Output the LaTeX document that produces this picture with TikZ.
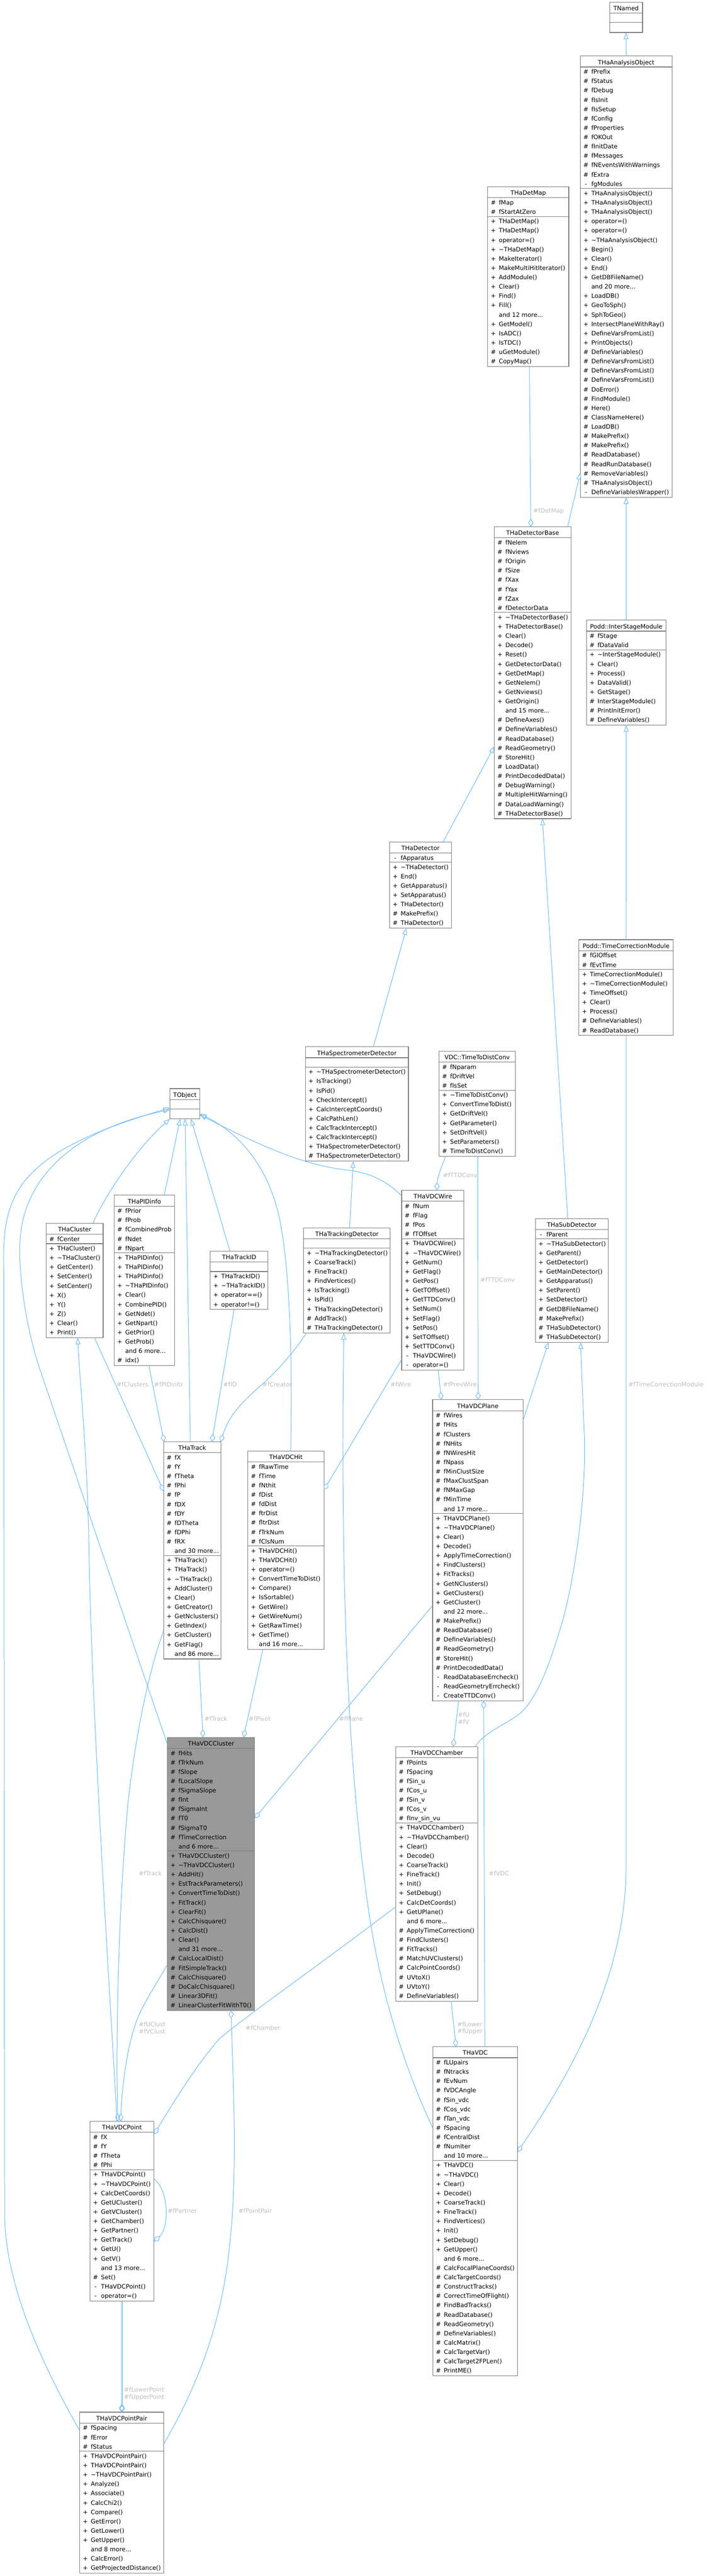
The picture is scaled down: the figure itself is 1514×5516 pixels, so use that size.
\documentclass[tikz,border=0pt]{standalone}
\usepackage{fontspec}
\setmainfont{DejaVu Sans}
\usetikzlibrary{calc,arrows.meta}

\definecolor{edgeblue}{HTML}{63B8FF}
\definecolor{boxgray}{HTML}{7A7A7A}
\definecolor{labelgray}{HTML}{BEBEBE}
\definecolor{focusgray}{HTML}{999999}

\newcommand{\moredots}{...}
\newcommand{\dtor}{\textasciitilde}

\tikzset{
    classrect/.style={draw=boxgray, line width=1.3pt, inner sep=0pt, outer sep=0pt, anchor=north west},
    rowline/.style={draw=boxgray, line width=1.3pt},
    rowtext/.style={inner sep=0pt, anchor=base west},
    marktext/.style={inner sep=0pt, anchor=base},
    titletext/.style={inner sep=0pt, anchor=base},
    inherit/.style={draw=edgeblue, line width=1.1pt, -{Triangle[open, length=14pt, width=10pt]}},
    member/.style={draw=edgeblue, line width=1.1pt, {Diamond[open, length=17pt, width=11pt]}-},
    edgelabel/.style={text=labelgray, inner sep=0pt, anchor=west, align=left},
}

\begin{document}
\begin{tikzpicture}[x=1pt, y=-1pt, font=\fontsize{12.9}{15.3}\selectfont]
\path[fill=white, use as bounding box] (0,0) rectangle (1514,5516);
% Variables: 1 := top left corner, 2 := ID, 3 := width, 4 := title,
% 5,6 := attribute count and rows, 7,8 := method count and rows, 9 := fill.
\def\classbox(#1)#2#3#4#5#6#7#8#9{
    \begin{scope}[shift={(#1)}]
        \pgfmathtruncatemacro\na{max(#5,1)}
        \pgfmathtruncatemacro\nm{max(#7,1)}
        \pgfmathsetmacro\hgt{25+20*(\na+\nm)}
        \node[classrect, fill=#9, minimum width=#3pt, minimum height=\hgt pt] (#2) at (0,0) {};
        \node[titletext] (#2-title) at (#3/2,18) {#4};
        \draw[rowline] (0,23.5) -- ++(#3,0);
        \draw[rowline] (0,23.5+20*\na) -- ++(#3,0);
        \ifnum#5>0
        \foreach \mk/\tx [count=\i from 0] in {#6}{
            \node[marktext] (#2-am\i) at (12,38.5+20*\i) {\mk};
            \node[rowtext] (#2-a\i) at (23.5,38.5+20*\i) {\tx};
        }
        \fi
        \pgfmathsetmacro\ms{38.5+20*\na}
        \ifnum#7>0
        \foreach \mk/\tx [count=\i from 0] in {#8}{
            \node[marktext] (#2-mm\i) at (12,\ms+20*\i) {\mk};
            \node[rowtext] (#2-m\i) at (23.5,\ms+20*\i) {\tx};
        }
        \fi
    \end{scope}
}
\classbox(1304.3,4.6){tnamed}{70.2}{TNamed}{0}{}{0}{}{white}
\classbox(1241.4,120){ao}{196.4}{THaAnalysisObject}{13}{\#/fPrefix, \#/fStatus, \#/fDebug, \#/fIsInit, \#/fIsSetup, \#/fConfig, \#/fProperties, \#/fOKOut, \#/fInitDate, \#/fMessages, \#/fNEventsWithWarnings, \#/fExtra, -/fgModules}{33}{+/THaAnalysisObject(), +/THaAnalysisObject(), +/THaAnalysisObject(), +/operator=(), +/operator=(), +/\dtor THaAnalysisObject(), +/Begin(), +/Clear(), +/End(), +/GetDBFileName(), /and 20 more\moredots, +/LoadDB(), +/GeoToSph(), +/SphToGeo(), +/IntersectPlaneWithRay(), +/DefineVarsFromList(), +/PrintObjects(), \#/DefineVariables(), \#/DefineVarsFromList(), \#/DefineVarsFromList(), \#/DefineVarsFromList(), \#/DoError(), \#/FindModule(), \#/Here(), \#/ClassNameHere(), \#/LoadDB(), \#/MakePrefix(), \#/MakePrefix(), \#/ReadDatabase(), \#/ReadRunDatabase(), \#/RemoveVariables(), \#/THaAnalysisObject(), -/DefineVariablesWrapper()}{white}
\classbox(1043.5,400){detmap}{173.4}{THaDetMap}{2}{\#/fMap, \#/fStartAtZero}{16}{+/THaDetMap(), +/THaDetMap(), +/operator=(), +/\dtor THaDetMap(), +/MakeIterator(), +/MakeMultiHitIterator(), +/AddModule(), +/Clear(), +/Find(), +/Fill(), /and 12 more\moredots, +/GetModel(), +/IsADC(), +/IsTDC(), \#/uGetModule(), \#/CopyMap()}{white}
\classbox(1057.6,1128){detbase}{164}{THaDetectorBase}{8}{\#/fNelem, \#/fNviews, \#/fOrigin, \#/fSize, \#/fXax, \#/fYax, \#/fZax, \#/fDetectorData}{22}{+/\dtor THaDetectorBase(), +/THaDetectorBase(), +/Clear(), +/Decode(), +/Reset(), +/GetDetectorData(), +/GetDetMap(), +/GetNelem(), +/GetNviews(), +/GetOrigin(), /and 15 more\moredots, \#/DefineAxes(), \#/DefineVariables(), \#/ReadDatabase(), \#/ReadGeometry(), \#/StoreHit(), \#/LoadData(), \#/PrintDecodedData(), \#/DebugWarning(), \#/MultipleHitWarning(), \#/DataLoadWarning(), \#/THaDetectorBase()}{white}
\classbox(1254.7,1328){ism}{170.1}{Podd::InterStageModule}{2}{\#/fStage, \#/fDataValid}{8}{+/\dtor InterStageModule(), +/Clear(), +/Process(), +/DataValid(), +/GetStage(), \#/InterStageModule(), \#/PrintInitError(), \#/DefineVariables()}{white}
\classbox(833.5,1802.8){det}{132.2}{THaDetector}{1}{-/fApparatus}{7}{+/\dtor THaDetector(), +/End(), +/GetApparatus(), +/SetApparatus(), +/THaDetector(), \#/MakePrefix(), \#/THaDetector()}{white}
\classbox(1238.4,2012.3){tcm}{202.2}{Podd::TimeCorrectionModule}{2}{\#/fGlOffset, \#/fEvtTime}{7}{+/TimeCorrectionModule(), +/\dtor TimeCorrectionModule(), +/TimeOffset(), +/Clear(), +/Process(), \#/DefineVariables(), \#/ReadDatabase()}{white}
\classbox(653.3,2241.4){specdet}{220.4}{THaSpectrometerDetector}{0}{}{10}{+/\dtor THaSpectrometerDetector(), +/IsTracking(), +/IsPid(), +/CheckIntercept(), +/CalcInterceptCoords(), +/CalcPathLen(), +/CalcTrackIntercept(), +/CalcTrackIntercept(), +/THaSpectrometerDetector(), \#/THaSpectrometerDetector()}{white}
\classbox(939.3,2251){ttdconv}{163}{VDC::TimeToDistConv}{3}{\#/fNparam, \#/fDriftVel, \#/fIsSet}{7}{+/\dtor TimeToDistConv(), +/ConvertTimeToDist(), +/GetDriftVel(), +/GetParameter(), +/SetDriftVel(), +/SetParameters(), \#/TimeToDistConv()}{white}
\classbox(363.5,2331){tobject}{64}{TObject}{0}{}{0}{}{white}
\classbox(98.9,2619.5){cluster}{121.7}{THaCluster}{1}{\#/fCenter}{10}{+/THaCluster(), +/\dtor THaCluster(), +/GetCenter(), +/SetCenter(), +/SetCenter(), +/X(), +/Y(), +/Z(), +/Clear(), +/Print()}{white}
\classbox(244.3,2559.2){pidinfo}{129.4}{THaPIDinfo}{5}{\#/fPrior, \#/fProb, \#/fCombinedProb, \#/fNdet, \#/fNpart}{12}{+/THaPIDinfo(), +/THaPIDinfo(), +/THaPIDinfo(), +/\dtor THaPIDinfo(), +/Clear(), +/CombinePID(), +/GetNdet(), +/GetNpart(), +/GetPrior(), +/GetProb(), /and 6 more\moredots, \#/idx()}{white}
\classbox(449.8,2679.2){trackid}{123.6}{THaTrackID}{0}{}{4}{+/THaTrackID(), +/\dtor THaTrackID(), +/operator==(), +/operator!=()}{white}
\classbox(649.5,2629.2){trackdet}{185.5}{THaTrackingDetector}{0}{}{9}{+/\dtor THaTrackingDetector(), +/CoarseTrack(), +/FineTrack(), +/FindVertices(), +/IsTracking(), +/IsPid(), +/THaTrackingDetector(), \#/AddTrack(), \#/THaTrackingDetector()}{white}
\classbox(859.4,2549){vdcwire}{133.3}{THaVDCWire}{4}{\#/fNum, \#/fFlag, \#/fPos, \#/fTOffset}{14}{+/THaVDCWire(), +/\dtor THaVDCWire(), +/GetNum(), +/GetFlag(), +/GetPos(), +/GetTOffset(), +/GetTTDConv(), +/SetNum(), +/SetFlag(), +/SetPos(), +/SetTOffset(), +/SetTTDConv(), -/THaVDCWire(), -/operator=()}{white}
\classbox(1145.3,2609.2){subdet}{155.9}{THaSubDetector}{1}{-/fParent}{11}{+/\dtor THaSubDetector(), +/GetParent(), +/GetDetector(), +/GetMainDetector(), +/GetApparatus(), +/SetParent(), +/SetDetector(), \#/GetDBFileName(), \#/MakePrefix(), \#/THaSubDetector(), \#/THaSubDetector()}{white}
\classbox(350,3087.3){track}{122.6}{THaTrack}{11}{\#/fX, \#/fY, \#/fTheta, \#/fPhi, \#/fP, \#/fDX, \#/fDY, \#/fDTheta, \#/fDPhi, \#/fRX, /and 30 more\moredots}{11}{+/THaTrack(), +/THaTrack(), +/\dtor THaTrack(), +/AddCluster(), +/Clear(), +/GetCreator(), +/GetNclusters(), +/GetIndex(), +/GetCluster(), +/GetFlag(), /and 86 more\moredots}{white}
\classbox(530.3,3106.8){vdchit}{162.9}{THaVDCHit}{9}{\#/fRawTime, \#/fTime, \#/fNthit, \#/fDist, \#/fdDist, \#/ftrDist, \#/fltrDist, \#/fTrkNum, \#/fClsNum}{11}{+/THaVDCHit(), +/THaVDCHit(), +/operator=(), +/ConvertTimeToDist(), +/Compare(), +/IsSortable(), +/GetWire(), +/GetWireNum(), +/GetRawTime(), +/GetTime(), /and 16 more\moredots}{white}
\classbox(925.5,2997.2){vdcplane}{193.4}{THaVDCPlane}{11}{\#/fWires, \#/fHits, \#/fClusters, \#/fNHits, \#/fNWiresHit, \#/fNpass, \#/fMinClustSize, \#/fMaxClustSpan, \#/fNMaxGap, \#/fMinTime, /and 17 more\moredots}{20}{+/THaVDCPlane(), +/\dtor THaVDCPlane(), +/Clear(), +/Decode(), +/ApplyTimeCorrection(), +/FindClusters(), +/FitTracks(), +/GetNClusters(), +/GetClusters(), +/GetCluster(), /and 22 more\moredots, \#/MakePrefix(), \#/ReadDatabase(), \#/DefineVariables(), \#/ReadGeometry(), \#/StoreHit(), \#/PrintDecodedData(), -/ReadDatabaseErrcheck(), -/ReadGeometryErrcheck(), -/CreateTTDConv()}{white}
\classbox(358.2,3720.1){vdccluster}{186.6}{THaVDCCluster}{11}{\#/fHits, \#/fTrkNum, \#/fSlope, \#/fLocalSlope, \#/fSigmaSlope, \#/fInt, \#/fSigmaInt, \#/fT0, \#/fSigmaT0, \#/fTimeCorrection, /and 6 more\moredots}{17}{+/THaVDCCluster(), +/\dtor THaVDCCluster(), +/AddHit(), +/EstTrackParameters(), +/ConvertTimeToDist(), +/FitTrack(), +/ClearFit(), +/CalcChisquare(), +/CalcDist(), +/Clear(), /and 31 more\moredots, \#/CalcLocalDist(), \#/FitSimpleTrack(), \#/CalcChisquare(), \#/DoCalcChisquare(), \#/Linear3DFit(), \#/LinearClusterFitWithT0()}{focusgray}
\classbox(846.7,3740){vdcchamber}{175.7}{THaVDCChamber}{7}{\#/fPoints, \#/fSpacing, \#/fSin\_u, \#/fCos\_u, \#/fSin\_v, \#/fCos\_v, \#/fInv\_sin\_vu}{19}{+/THaVDCChamber(), +/\dtor THaVDCChamber(), +/Clear(), +/Decode(), +/CoarseTrack(), +/FineTrack(), +/Init(), +/SetDebug(), +/CalcDetCoords(), +/GetUPlane(), /and 6 more\moredots, \#/ApplyTimeCorrection(), \#/FindClusters(), \#/FitTracks(), \#/MatchUVClusters(), \#/CalcPointCoords(), \#/UVtoX(), \#/UVtoY(), \#/DefineVariables()}{white}
\classbox(926,4382.6){vdc}{181.3}{THaVDC}{11}{\#/fLUpairs, \#/fNtracks, \#/fEvNum, \#/fVDCAngle, \#/fSin\_vdc, \#/fCos\_vdc, \#/fTan\_vdc, \#/fSpacing, \#/fCentralDist, \#/fNumIter, /and 10 more\moredots}{23}{+/THaVDC(), +/\dtor THaVDC(), +/Clear(), +/Decode(), +/CoarseTrack(), +/FineTrack(), +/FindVertices(), +/Init(), +/SetDebug(), +/GetUpper(), /and 6 more\moredots, \#/CalcFocalPlaneCoords(), \#/CalcTargetCoords(), \#/ConstructTracks(), \#/CorrectTimeOfFlight(), \#/FindBadTracks(), \#/ReadDatabase(), \#/ReadGeometry(), \#/DefineVariables(), \#/CalcMatrix(), \#/CalcTargetVar(), \#/CalcTarget2FPLen(), \#/PrintME()}{white}
\classbox(192.4,4542.4){vdcpoint}{137.2}{THaVDCPoint}{4}{\#/fX, \#/fY, \#/fTheta, \#/fPhi}{14}{+/THaVDCPoint(), +/\dtor THaVDCPoint(), +/CalcDetCoords(), +/GetUCluster(), +/GetVCluster(), +/GetChamber(), +/GetPartner(), +/GetTrack(), +/GetU(), +/GetV(), /and 13 more\moredots, \#/Set(), -/THaVDCPoint(), -/operator=()}{white}
\classbox(170.6,5165.2){pointpair}{179.8}{THaVDCPointPair}{3}{\#/fSpacing, \#/fError, \#/fStatus}{13}{+/THaVDCPointPair(), +/THaVDCPointPair(), +/\dtor THaVDCPointPair(), +/Analyze(), +/Associate(), +/CalcChi2(), +/Compare(), +/GetError(), +/GetLower(), +/GetUpper(), /and 8 more\moredots, +/CalcError(), +/GetProjectedDistance()}{white}

% inheritance
\draw[inherit] (ao.north) -- (tnamed.south);
\draw[inherit] ($(detbase.north west)+(156.8,0)$) -- ($(ao.north west)+(0,893)$);
\draw[inherit] (ism.north) -- (ao.south);
\draw[inherit] ($(det.north west)+(114.5,0)$) -- ($(detbase.north west)+(0,470)$);
\draw[inherit] ($(subdet.north west)+(69.4,0)$) -- ($(detbase.north west)+(102.8,625)$);
\draw[inherit] (tcm.north) -- (ism.south);
\draw[inherit] ($(specdet.north west)+(145.5,0)$) -- ($(det.north west)+(35.8,185)$);
\draw[inherit] ($(trackdet.north west)+(98.5,0)$) -- ($(specdet.north west)+(102.5,245)$);
\draw[inherit] ($(vdcplane.north west)+(193.4,44.8)$) -- ($(subdet.north west)+(28.1,265)$);
\draw[inherit] ($(vdcchamber.north west)+(169.7,0)$) .. controls (1040,3705) and (1090,3690) .. (1118,3664)
    .. controls (1160,3620) and (1185,3530) .. (1201,3480)
    .. controls (1230,3380) and (1255,3200) .. (1250,3071)
    .. controls (1247,3000) and (1244,2930) .. ($(subdet.north west)+(97,265)$);
\draw[inherit] ($(vdchit.north west)+(91.6,0)$) .. controls (627,2850) and (615,2700) .. (600,2620)
    .. controls (580,2510) and (520,2430) .. ($(tobject.north west)+(64,54)$);
\draw[inherit] ($(vdcwire.north west)+(0,12)$) .. controls (830,2530) and (790,2510) .. (740,2505)
    .. controls (650,2495) and (560,2455) .. ($(tobject.north west)+(64,56)$);
\draw[inherit] ($(track.north west)+(57.2,0)$) -- ($(tobject.north west)+(32.5,65)$);
\draw[inherit] ($(pidinfo.north west)+(107.1,0)$) -- ($(tobject.north west)+(21.9,65)$);
\draw[inherit] ($(trackid.north west)+(42.2,0)$) -- ($(tobject.north west)+(45.1,65)$);
\draw[inherit] ($(cluster.north west)+(99.8,0)$) .. controls (215,2580) and (280,2470) .. (tobject.south west);
\draw[inherit] ($(vdccluster.north west)+(0,15.5)$) -- (86.3,2934.6)
    .. controls (52.3,2834.6) and (40,2720) .. (42.7,2665)
    .. controls (45,2530) and (150,2420) .. ($(tobject.north west)+(0,45.2)$);
\draw[inherit] ($(pointpair.north west)+(0,39.8)$) .. controls (100,5080) and (10,4900) .. (10,4740)
    -- (8,2720) .. controls (4,2560) and (30,2470) .. ($(tobject.north west)+(0,41.3)$);
\draw[inherit] ($(vdcpoint.north west)+(57.6,0)$) .. controls (244,4400) and (196,3700) .. (190,3300)
    .. controls (186,3100) and (170,2950) .. ($(cluster.north west)+(67.4,245)$);
\draw[inherit] ($(vdc.north west)+(0,174)$) .. controls (880,4460) and (820,4300) .. (790,4100)
    .. controls (745,3800) and (728,3400) .. ($(trackdet.north west)+(85.9,225)$);

% members
\draw[member] ($(detbase.north west)+(78,0)$) -- ($(detmap.north west)+(89.2,385)$);
\draw[member] ($(vdcwire.north west)+(75.4,0)$) .. controls (935,2525) and (945,2495) .. ($(ttdconv.north west)+(14.3,225)$);
\draw[member] ($(vdcplane.north west)+(97.5,0)$) -- ($(ttdconv.north west)+(82.6,225)$);
\draw[member] ($(vdcplane.north west)+(18.7,0)$) -- ($(vdcwire.north west)+(78.2,385)$);
\draw[member] ($(vdchit.north west)+(162.9,83.2)$) -- ($(vdcwire.north west)+(0,361.6)$);
\draw[member] ($(track.north west)+(0,105.7)$) -- ($(cluster.north west)+(103.2,245)$);
\draw[member] ($(track.north west)+(1,0)$) -- ($(pidinfo.north west)+(74.2,365)$);
\draw[member] ($(track.north west)+(103.2,0)$) -- ($(trackid.north west)+(50.9,125)$);
\draw[member] ($(track.north west)+(122,0)$) .. controls (490,3030) and (520,3000) .. (560,2965)
    .. controls (600,2930) and (640,2880) .. ($(trackdet.north west)+(5.8,225)$);
\draw[member] ($(vdccluster.north west)+(76.1,0)$) -- ($(track.north west)+(75.6,465)$);
\draw[member] ($(vdccluster.north west)+(162.9,0)$) -- ($(vdchit.north west)+(32,425)$);
\draw[member] ($(vdccluster.north west)+(186.6,173.4)$) -- ($(vdcplane.north west)+(0,440.8)$);
\draw[member] ($(vdcchamber.north west)+(122.9,0)$) -- ($(vdcplane.north west)+(55.6,645)$);
\draw[member] ($(vdcplane.north west)+(109.1,645)$) -- ($(vdc.north west)+(111.4,0)$);
\draw[member] ($(vdc.north west)+(49.6,0)$) -- ($(vdcchamber.north west)+(118.5,545)$);
\draw[member] ($(vdc.north west)+(181.3,225.4)$) .. controls (1200,4470) and (1339,4250) .. (1339.3,4000)
    -- ($(tcm.north west)+(100.9,205)$);
\draw[member] ($(vdcpoint.north west)+(65.5,0)$) .. controls (262,4450) and (275,4370) .. (295,4320)
    .. controls (315,4275) and (340,4240) .. ($(vdccluster.north west)+(0,486.3)$);
\draw[member] ($(vdcpoint.north west)+(59.6,0)$) .. controls (247,4350) and (255,4050) .. (275,3850)
    .. controls (295,3680) and (325,3560) .. ($(track.north west)+(0,404.4)$);
\draw[member] ($(vdcpoint.north west)+(137.2,27.6)$) .. controls (360,4520) and (420,4420) .. (470,4365)
    .. controls (525,4318) and (700,4195) .. ($(vdcchamber.north west)+(0,342.8)$);
\draw[member] ($(vdcpoint.north west)+(137.2,257.2)$) .. controls (362,4770) and (362,4690) .. ($(vdcpoint.north west)+(137.2,123.5)$);
\draw[member] ($(pointpair.north west)+(89.5,0)$) -- ($(vdcpoint.north west)+(67.7,385)$);
\draw[member] ($(pointpair.north west)+(90.9,0)$) -- ($(vdcpoint.north west)+(69.1,385)$);
\draw[member] ($(vdccluster.north west)+(136.2,585)$) .. controls (498,4450) and (510,4650) .. (490,4820)
    .. controls (470,5000) and (410,5130) .. ($(pointpair.north west)+(179.8,68.1)$);

% member names
\node[edgelabel] (l-detmap) at (1140.6,1095) {\#fDetMap};
\node[edgelabel] (l-wirettd) at (947.5,2516) {\#fTTDConv};
\node[edgelabel] (l-planettd) at (1027.4,2740) {\#fTTDConv};
\node[edgelabel] (l-prevwire) at (947.5,2964) {\#fPrevWire};
\node[edgelabel] (l-wire) at (835,2964) {\#fWire};
\node[edgelabel] (l-tcm) at (1344.2,2964) {\#fTimeCorrectionModule};
\node[edgelabel] (l-clusters) at (249.6,2964) {\#fClusters};
\node[edgelabel] (l-pidinfo) at (329.6,2964) {\#fPIDinfo};
\node[edgelabel] (l-id) at (477.4,2964) {\#fID};
\node[edgelabel] (l-creator) at (561.3,2964) {\#fCreator};
\node[edgelabel] (l-track) at (437.2,3680) {\#fTrack};
\node[edgelabel] (l-pivot) at (531.8,3680) {\#fPivot};
\node[edgelabel] (l-plane) at (725.5,3680) {\#fPlane};
\node[edgelabel] (l-uv) at (979.5,3679.2) {\#fU\\\#fV};
\node[edgelabel] (l-vdc) at (1045.6,4011) {\#fVDC};
\node[edgelabel] (l-pttrack) at (296.7,4011) {\#fTrack};
\node[edgelabel] (l-lowup) at (977.8,4343) {\#fLower\\\#fUpper};
\node[edgelabel] (l-uvclust) at (296.6,4342.3) {\#fUClust\\\#fVClust};
\node[edgelabel] (l-chamber) at (525,4342.6) {\#fChamber};
\node[edgelabel] (l-partner) at (358.7,4734) {\#fPartner};
\node[edgelabel] (l-pointpair) at (509.9,4734) {\#fPointPair};
\node[edgelabel] (l-points) at (265,5126) {\#fLowerPoint\\\#fUpperPoint};
\end{tikzpicture}
\end{document}
